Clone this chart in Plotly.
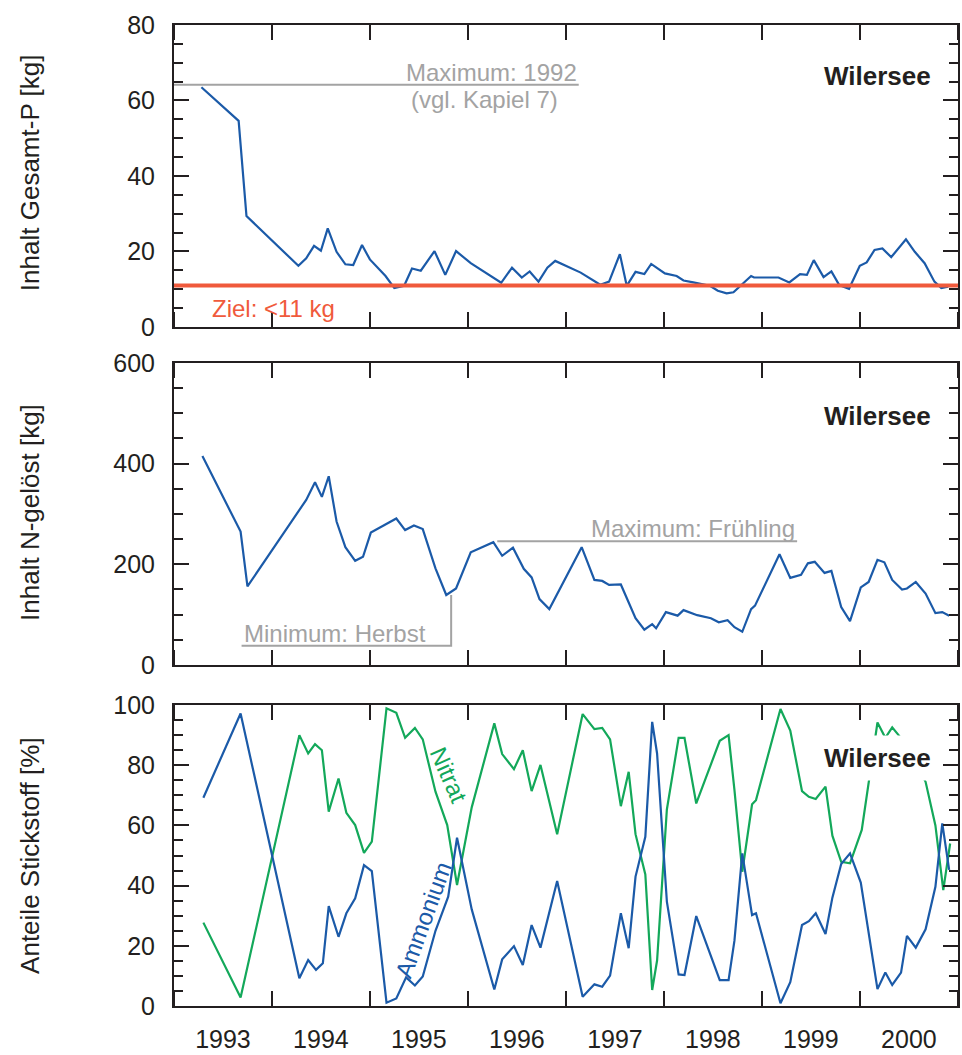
import plotly.graph_objects as go
import pandas as pd

# ---------------- data ----------------
p_year = [1993.28, 1993.66, 1993.74, 1994.27, 1994.35, 1994.43, 1994.50, 1994.57, 1994.66, 1994.75,
          1994.83, 1994.92, 1995.00, 1995.16, 1995.25, 1995.35, 1995.43, 1995.52, 1995.66, 1995.77,
          1995.88, 1996.03, 1996.34, 1996.45, 1996.55, 1996.63, 1996.72, 1996.81, 1996.89, 1997.15,
          1997.35, 1997.44, 1997.55, 1997.62, 1997.71, 1997.80, 1997.87, 1997.94, 1998.01, 1998.13,
          1998.20, 1998.30, 1998.47, 1998.55, 1998.64, 1998.71, 1998.89, 1998.92, 1999.17, 1999.28,
          1999.39, 1999.46, 1999.53, 1999.63, 1999.71, 1999.79, 1999.89, 2000.00, 2000.07, 2000.15,
          2000.23, 2000.32, 2000.47, 2000.56, 2000.66, 2000.76, 2000.83, 2000.90]
p_kg = [63.5, 54.6, 29.4, 16.2, 18.2, 21.5, 20.2, 26.1, 19.9, 16.6,
        16.4, 21.7, 17.9, 13.5, 10.3, 10.9, 15.5, 14.9, 20.1, 13.8,
        20.1, 16.9, 11.7, 15.7, 13.1, 14.7, 12.0, 15.7, 17.5, 14.4,
        11.2, 12.0, 19.3, 10.9, 14.6, 14.0, 16.7, 15.4, 14.2, 13.5,
        12.3, 11.8, 10.9, 9.6, 8.9, 9.2, 13.5, 13.1, 13.1, 11.8,
        14.0, 13.8, 17.7, 13.2, 14.7, 11.1, 10.1, 16.2, 17.1, 20.4,
        20.8, 18.5, 23.2, 19.9, 16.9, 12.0, 10.3, 10.7]

n_year = [1993.29, 1993.68, 1993.75, 1994.26, 1994.35, 1994.44, 1994.51, 1994.58, 1994.66, 1994.75,
          1994.85, 1994.93, 1995.01, 1995.27, 1995.36, 1995.45, 1995.54, 1995.67, 1995.78, 1995.88,
          1996.03, 1996.26, 1996.35, 1996.46, 1996.57, 1996.65, 1996.73, 1996.83, 1997.16, 1997.29,
          1997.37, 1997.44, 1997.56, 1997.71, 1997.80, 1997.88, 1997.92, 1998.02, 1998.14, 1998.20,
          1998.34, 1998.48, 1998.56, 1998.65, 1998.72, 1998.80, 1998.89, 1998.93, 1999.18, 1999.29,
          1999.40, 1999.47, 1999.54, 1999.64, 1999.71, 1999.81, 1999.90, 2000.01, 2000.09, 2000.18,
          2000.25, 2000.33, 2000.43, 2000.48, 2000.57, 2000.67, 2000.77, 2000.84, 2000.91]
n_kg = [415, 265, 156, 301, 328, 363, 334, 375, 285, 234,
        207, 215, 263, 291, 268, 277, 270, 192, 139, 152,
        224, 244, 217, 233, 191, 174, 131, 111, 234, 169,
        167, 159, 160, 93, 70, 81, 73, 105, 98, 109,
        99, 93, 85, 89, 75, 66, 111, 118, 220, 173,
        179, 202, 205, 183, 187, 115, 87, 154, 165, 209,
        204, 169, 150, 152, 165, 142, 103, 105, 98]

amm_year = [1993.30, 1993.68, 1994.28, 1994.37, 1994.45, 1994.52, 1994.58, 1994.68, 1994.76, 1994.85,
            1994.94, 1995.02, 1995.17, 1995.27, 1995.37, 1995.46, 1995.54, 1995.67, 1995.80, 1995.89,
            1996.04, 1996.27, 1996.35, 1996.47, 1996.56, 1996.65, 1996.74, 1996.91, 1997.17, 1997.29,
            1997.37, 1997.45, 1997.56, 1997.64, 1997.71, 1997.81, 1997.88, 1997.93, 1998.03, 1998.15,
            1998.21, 1998.33, 1998.57, 1998.66, 1998.72, 1998.80, 1998.90, 1998.94, 1999.19, 1999.29,
            1999.41, 1999.48, 1999.55, 1999.65, 1999.72, 1999.81, 1999.90, 2000.01, 2000.18, 2000.26,
            2000.33, 2000.42, 2000.48, 2000.57, 2000.67, 2000.77, 2000.84, 2000.91]
amm_pct = [69.2, 97.2, 9.2, 15.3, 12.0, 14.2, 33.2, 23.0, 30.8, 35.8,
           46.8, 44.8, 1.1, 2.5, 9.5, 6.8, 9.8, 25.0, 36.3, 55.9,
           32.1, 5.5, 15.5, 19.9, 13.6, 26.9, 19.4, 41.5, 3.1, 7.2,
           6.4, 10.1, 30.8, 19.2, 43.0, 56.2, 94.4, 83.9, 34.7, 10.5,
           10.3, 29.9, 8.6, 8.6, 21.7, 50.7, 30.2, 30.8, 0.9, 7.9,
           26.9, 28.2, 30.8, 23.9, 36.0, 47.2, 50.7, 41.0, 5.6, 11.1,
           7.0, 11.1, 23.3, 19.4, 25.5, 39.6, 60.7, 45.2]

nit_year = [1993.30, 1993.68, 1994.28, 1994.37, 1994.44, 1994.51, 1994.58, 1994.68, 1994.76, 1994.85,
            1994.94, 1995.02, 1995.17, 1995.27, 1995.36, 1995.46, 1995.54, 1995.67, 1995.79, 1995.89,
            1996.04, 1996.27, 1996.35, 1996.47, 1996.56, 1996.65, 1996.74, 1996.91, 1997.17, 1997.29,
            1997.37, 1997.45, 1997.56, 1997.64, 1997.71, 1997.81, 1997.88, 1997.93, 1998.03, 1998.15,
            1998.21, 1998.33, 1998.57, 1998.66, 1998.72, 1998.80, 1998.90, 1998.94, 1999.19, 1999.29,
            1999.41, 1999.48, 1999.55, 1999.65, 1999.72, 1999.81, 1999.90, 2000.02, 2000.18, 2000.26,
            2000.33, 2000.42, 2000.48, 2000.57, 2000.67, 2000.77, 2000.85, 2000.92]
nit_pct = [27.7, 2.8, 90.0, 83.9, 87.0, 85.0, 64.6, 75.6, 64.2, 60.1,
           50.9, 54.6, 98.9, 97.4, 89.1, 92.4, 88.6, 71.2, 60.1, 40.2,
           66.0, 93.9, 83.7, 78.7, 85.0, 71.4, 80.1, 57.1, 97.0, 92.0,
           92.4, 88.6, 66.4, 77.8, 57.1, 43.7, 5.3, 15.1, 65.3, 89.1,
           89.1, 67.3, 88.1, 90.0, 71.8, 44.6, 67.0, 68.4, 98.7, 91.5,
           71.4, 69.5, 68.8, 72.9, 56.6, 47.9, 47.4, 58.5, 94.2, 89.1,
           92.6, 89.0, 76.7, 80.6, 74.5, 60.0, 38.5, 54.0]

TARGET_P = 11                      # Ziel: <11 kg
max1992_year = [1993.0, 1997.13]   # guide line "Maximum: 1992"
max1992_val = [64.2, 64.2]
minh_year = [1993.69, 1995.83, 1995.83]   # guide "Minimum: Herbst"
minh_val = [38, 38, 139]
maxf_year = [1996.30, 1999.36]            # guide "Maximum: Frühling"
maxf_val = [246, 246]

year_ticks = list(range(1993, 2002))


def to_date(y):
    yr = int(y)
    frac = y - yr
    start = pd.Timestamp(yr, 1, 1)
    days = (pd.Timestamp(yr + 1, 1, 1) - start).days
    return (start + pd.Timedelta(days=frac * days)).strftime("%Y-%m-%d %H:%M")


def dates(lst):
    return [to_date(v) for v in lst]


# ---------------- style ----------------
FONT = "Liberation Sans, Arial, Helvetica, sans-serif"
DARK = "#231f20"
BLUE = "#1B5AA8"
GREEN = "#13A85A"
GRAY = "#a3a3a3"
RED = "#F05A3C"
LW = 2.2

fig = go.Figure()

fig.add_trace(go.Scatter(x=dates(max1992_year), y=max1992_val, mode="lines",
                         line=dict(color=GRAY, width=2), xaxis="x", yaxis="y", hoverinfo="skip"))
fig.add_trace(go.Scatter(x=dates(p_year), y=p_kg, mode="lines",
                         line=dict(color=BLUE, width=LW), xaxis="x", yaxis="y"))

fig.add_trace(go.Scatter(x=dates(minh_year), y=minh_val, mode="lines",
                         line=dict(color=GRAY, width=2), xaxis="x2", yaxis="y2", hoverinfo="skip"))
fig.add_trace(go.Scatter(x=dates(maxf_year), y=maxf_val, mode="lines",
                         line=dict(color=GRAY, width=2), xaxis="x2", yaxis="y2", hoverinfo="skip"))
fig.add_trace(go.Scatter(x=dates(n_year), y=n_kg, mode="lines",
                         line=dict(color=BLUE, width=LW), xaxis="x2", yaxis="y2"))

fig.add_trace(go.Scatter(x=dates(nit_year), y=nit_pct, mode="lines",
                         line=dict(color=GREEN, width=LW), xaxis="x3", yaxis="y3"))
fig.add_trace(go.Scatter(x=dates(amm_year), y=amm_pct, mode="lines",
                         line=dict(color=BLUE, width=LW), xaxis="x3", yaxis="y3"))

fig.add_shape(type="line", xref="x domain", yref="y", x0=0, x1=1, y0=TARGET_P, y1=TARGET_P,
              line=dict(color=RED, width=4), layer="above")

xcommon = dict(type="date", range=[to_date(1993.0), to_date(2001.0)], automargin=False,
               tick0=f"{year_ticks[0]}-01-01", dtick="M12", ticks="inside", ticklen=15,
               tickwidth=2, tickcolor=DARK, showline=True, linewidth=2, linecolor=DARK,
               mirror="ticks", showgrid=False, zeroline=False, ticklabelmode="period",
               tickformat="%Y", tickfont=dict(family=FONT, size=25, color=DARK))


def ycommon(rng, dt, mdt):
    return dict(range=rng, dtick=dt, tick0=0, ticks="inside", ticklen=15, tickwidth=2,
                automargin=False,
                tickcolor=DARK, showline=True, linewidth=2, linecolor=DARK, mirror="ticks",
                showgrid=False, zeroline=False, ticklabelstandoff=12,
                tickfont=dict(family=FONT, size=25, color=DARK),
                minor=dict(dtick=mdt, tick0=0, ticks="inside", ticklen=9, tickwidth=1.5,
                           tickcolor=DARK, showgrid=False))


fig.update_layout(
    width=962, height=1055,
    margin=dict(l=174, r=4, t=25, b=49),
    paper_bgcolor="white", plot_bgcolor="white",
    showlegend=False,
    font=dict(family=FONT, color=DARK),
    xaxis=dict(**xcommon, anchor="y", showticklabels=False),
    xaxis2=dict(**xcommon, anchor="y2", showticklabels=False, matches="x"),
    xaxis3=dict(**xcommon, anchor="y3", showticklabels=True, matches="x", ticklabelstandoff=10),
    yaxis=dict(**ycommon([0, 80], 20, 5), domain=[0.6922, 1.0], anchor="x"),
    yaxis2=dict(**ycommon([0, 600], 200, 50), domain=[0.3476, 0.6555], anchor="x2"),
    yaxis3=dict(**ycommon([0, 100], 20, 5), domain=[0.0, 0.3068], anchor="x3"),
)

ann = []
# y-axis titles
for txt, yy in [("Inhalt Gesamt-P [kg]", 0.850), ("Inhalt N-gelöst [kg]", 0.5036),
                ("Anteile Stickstoff [%]", 0.154)]:
    ann.append(dict(text=txt, xref="paper", yref="paper", x=-0.1837, y=yy, textangle=-90,
                    showarrow=False, xanchor="center", yanchor="middle",
                    font=dict(family=FONT, size=26, color=DARK)))
# Wilersee labels
for yy, bg in [(0.948, None), (0.6014, None), (0.2530, "white")]:
    d = dict(text="<b>Wilersee</b>", xref="paper", yref="paper", x=0.8967, y=yy,
             showarrow=False, xanchor="center", yanchor="middle",
             font=dict(family=FONT, size=26, color=DARK))
    if bg:
        d.update(bgcolor=bg, borderpad=7)
    ann.append(d)

ann += [
    dict(text="Maximum: 1992", xref="x", yref="y", x=to_date(max1992_year[1]), y=max1992_val[0],
         xanchor="right", yanchor="bottom", yshift=-3, showarrow=False,
         font=dict(family=FONT, size=24, color=GRAY)),
    dict(text="(vgl. Kapiel 7)", xref="x", yref="y", x=to_date(1995.40), y=60.3,
         xanchor="left", yanchor="middle", showarrow=False,
         font=dict(family=FONT, size=24, color=GRAY)),
    dict(text="Ziel: <11 kg", xref="x", yref="y", x=to_date(1993.37), y=5.0,
         xanchor="left", yanchor="middle", showarrow=False,
         font=dict(family=FONT, size=24, color=RED)),
    dict(text="Minimum: Herbst", xref="x2", yref="y2", x=to_date(minh_year[0]), y=minh_val[0],
         xanchor="left", yanchor="bottom", yshift=-3, showarrow=False,
         font=dict(family=FONT, size=24, color=GRAY)),
    dict(text="Maximum: Frühling", xref="x2", yref="y2", x=to_date(maxf_year[1]), y=maxf_val[0],
         xanchor="right", yanchor="bottom", yshift=-3, showarrow=False,
         font=dict(family=FONT, size=24, color=GRAY)),
    dict(text="Nitrat", xref="x3", yref="y3", x=to_date(1995.81), y=76.7, textangle=66,
         xanchor="center", yanchor="middle", showarrow=False,
         font=dict(family=FONT, size=24, color=GREEN)),
    dict(text="Ammonium", xref="x3", yref="y3", x=to_date(1995.55), y=28.6, textangle=-70,
         xanchor="center", yanchor="middle", showarrow=False,
         font=dict(family=FONT, size=24, color=BLUE)),
]
fig.update_layout(annotations=ann)

fig.write_html("out.html")
